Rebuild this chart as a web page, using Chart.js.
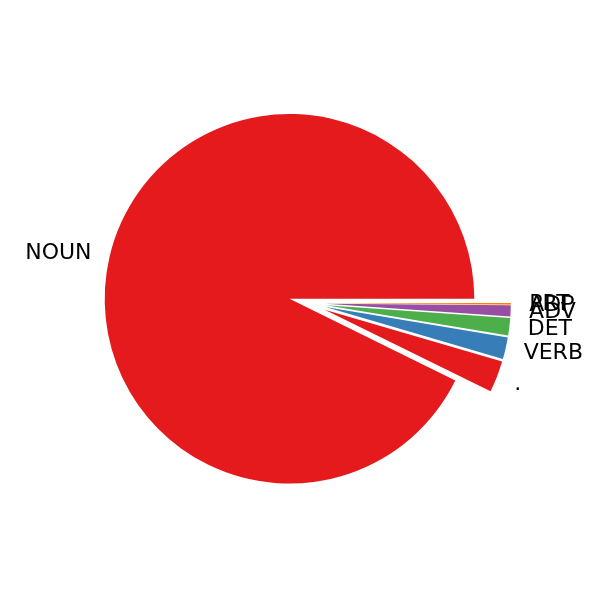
<!DOCTYPE html>
<html>
<head>
<meta charset="utf-8">
<script src="https://cdn.jsdelivr.net/npm/chart.js@4/dist/chart.umd.min.js"></script>
<style>
  html, body { margin: 0; padding: 0; background: #ffffff; }
  #wrap { width: 600px; height: 600px; }
</style>
</head>
<body>
<div id="wrap"><canvas id="c" width="600" height="600"></canvas></div>
<script>
// Data, in the order matplotlib draws them (counter-clockwise from 3 o'clock)
const categories = ['NOUN', '.', 'VERB', 'DET', 'ADV', 'ADP', 'PRT'];
const shares = [92.72, 2.75, 1.90, 1.53, 0.97, 0.03, 0.10];
const sliceColors = ['#e41a1c', '#e41a1c', '#377eb8', '#4daf4a', '#984ea3', '#ff7f00', '#ff7f00'];
const explodeFrac = [0.1, 0.1, 0.1, 0.1, 0.1, 0.1, 0.1];

// Chart.js runs clockwise, so reverse to reproduce the counter-clockwise layout
const labelsCJ = categories.slice().reverse();
const dataCJ = shares.slice().reverse();
const colorsCJ = sliceColors.slice().reverse();
const explodeCJ = explodeFrac.slice().reverse();

const LABEL_DIST = 1.1;
const FONT_SIZE = 22;

const explodePlugin = {
  id: 'explodeAndLabels',
  beforeDatasetsDraw(chart) {
    const meta = chart.getDatasetMeta(0);
    meta.data.forEach((arc, i) => {
      if (arc._exploded) return;
      const orig = arc.draw;
      arc.draw = function (ctx, area) {
        const mid = (this.startAngle + this.endAngle) / 2;
        const d = explodeCJ[i] * this.outerRadius;
        ctx.save();
        ctx.translate(Math.cos(mid) * d, Math.sin(mid) * d);
        orig.call(this, ctx, area);
        ctx.restore();
      };
      arc._exploded = true;
    });
  },
  afterDatasetsDraw(chart) {
    const ctx = chart.ctx;
    const meta = chart.getDatasetMeta(0);
    ctx.save();
    ctx.font = FONT_SIZE + 'px "DejaVu Sans"';
    ctx.fillStyle = '#000000';
    ctx.textBaseline = 'alphabetic';
    meta.data.forEach((arc, i) => {
      const mid = (arc.startAngle + arc.endAngle) / 2;
      const r = arc.outerRadius;
      const dist = explodeCJ[i] * r + LABEL_DIST * r;
      const x = arc.x + Math.cos(mid) * dist;
      const y = arc.y + Math.sin(mid) * dist;
      ctx.textAlign = x > arc.x ? 'left' : 'right';
      ctx.fillText(labelsCJ[i], x, y + 0.28 * FONT_SIZE);
    });
    ctx.restore();
  }
};

new Chart(document.getElementById('c'), {
  type: 'pie',
  data: {
    labels: labelsCJ,
    datasets: [{
      data: dataCJ,
      backgroundColor: colorsCJ,
      borderWidth: 0,
      radius: 184.8,
      clip: false
    }]
  },
  options: {
    responsive: false,
    animation: false,
    rotation: 90,
    layout: { padding: { left: 75, right: 60, top: 72, bottom: 66 } },
    plugins: {
      legend: { display: false },
      tooltip: { enabled: false }
    }
  },
  plugins: [explodePlugin]
});
</script>
</body>
</html>
